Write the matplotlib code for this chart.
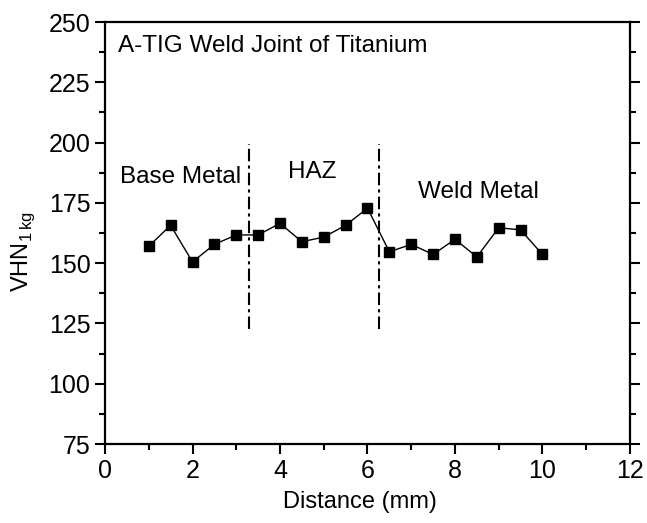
import matplotlib
matplotlib.use("Agg")
import matplotlib.pyplot as plt
from matplotlib.ticker import MultipleLocator

plt.rcParams['font.family'] = ['Liberation Sans', 'DejaVu Sans']

# hardness profile across the joint
distance = [1, 1.5, 2, 2.5, 3, 3.5, 4, 4.5, 5, 5.5, 6, 6.5, 7, 7.5, 8, 8.5, 9, 9.5, 10]
hardness = [157, 165.7, 150.5, 157.8, 161.7, 161.7, 166.5, 158.9, 160.8, 165.7,
            172.8, 154.7, 157.8, 153.6, 159.9, 152.6, 164.7, 163.8, 153.6]

# zone boundaries (x) and their vertical extent
boundaries = [3.3, 6.27]
boundary_low = 122.5
boundary_high = 199.5

zone_labels = ["Base Metal", "HAZ", "Weld Metal"]
zone_pos = [(0.34, 185.8), (4.18, 187.9), (7.15, 179.6)]

fig = plt.figure(figsize=(6.47, 5.23), dpi=100)
ax = fig.add_axes([0.1623, 0.151, 0.8114, 0.8069])

ax.plot(distance, hardness, color='black', linewidth=1.0, marker='s',
        markersize=7.5, markerfacecolor='black', markeredgecolor='black')

for b in boundaries:
    ax.plot([b, b], [boundary_low, boundary_high], color='black', linewidth=1.5,
            linestyle=(0, (6, 2, 1.5, 2)))

for lab, (x, y) in zip(zone_labels, zone_pos):
    ax.text(x, y, lab, fontsize=17.5, va='center', ha='left')

ax.text(0.3, 240, "A-TIG Weld Joint of Titanium", fontsize=17.5, va='center', ha='left')

ax.set_xlim(0, 12)
ax.set_ylim(75, 250)
ax.xaxis.set_major_locator(MultipleLocator(2))
ax.xaxis.set_minor_locator(MultipleLocator(1))
ax.yaxis.set_major_locator(MultipleLocator(25))
ax.yaxis.set_minor_locator(MultipleLocator(12.5))

ax.tick_params(which='both', direction='out', width=1.5, labelsize=18,
               right=True, top=False, labelright=False)
ax.tick_params(which='major', length=7)
ax.tick_params(which='minor', length=4)
for s in ax.spines.values():
    s.set_linewidth(1.6)

ax.set_xlabel("Distance (mm)", fontsize=17)
ax.set_ylabel("VHN$_{\\mathregular{1\\,kg}}$", fontsize=17)
ax.xaxis.set_label_coords(0.486, -0.112)
ax.yaxis.set_label_coords(-0.129, 0.456)

fig.savefig("out.png", dpi=100)
